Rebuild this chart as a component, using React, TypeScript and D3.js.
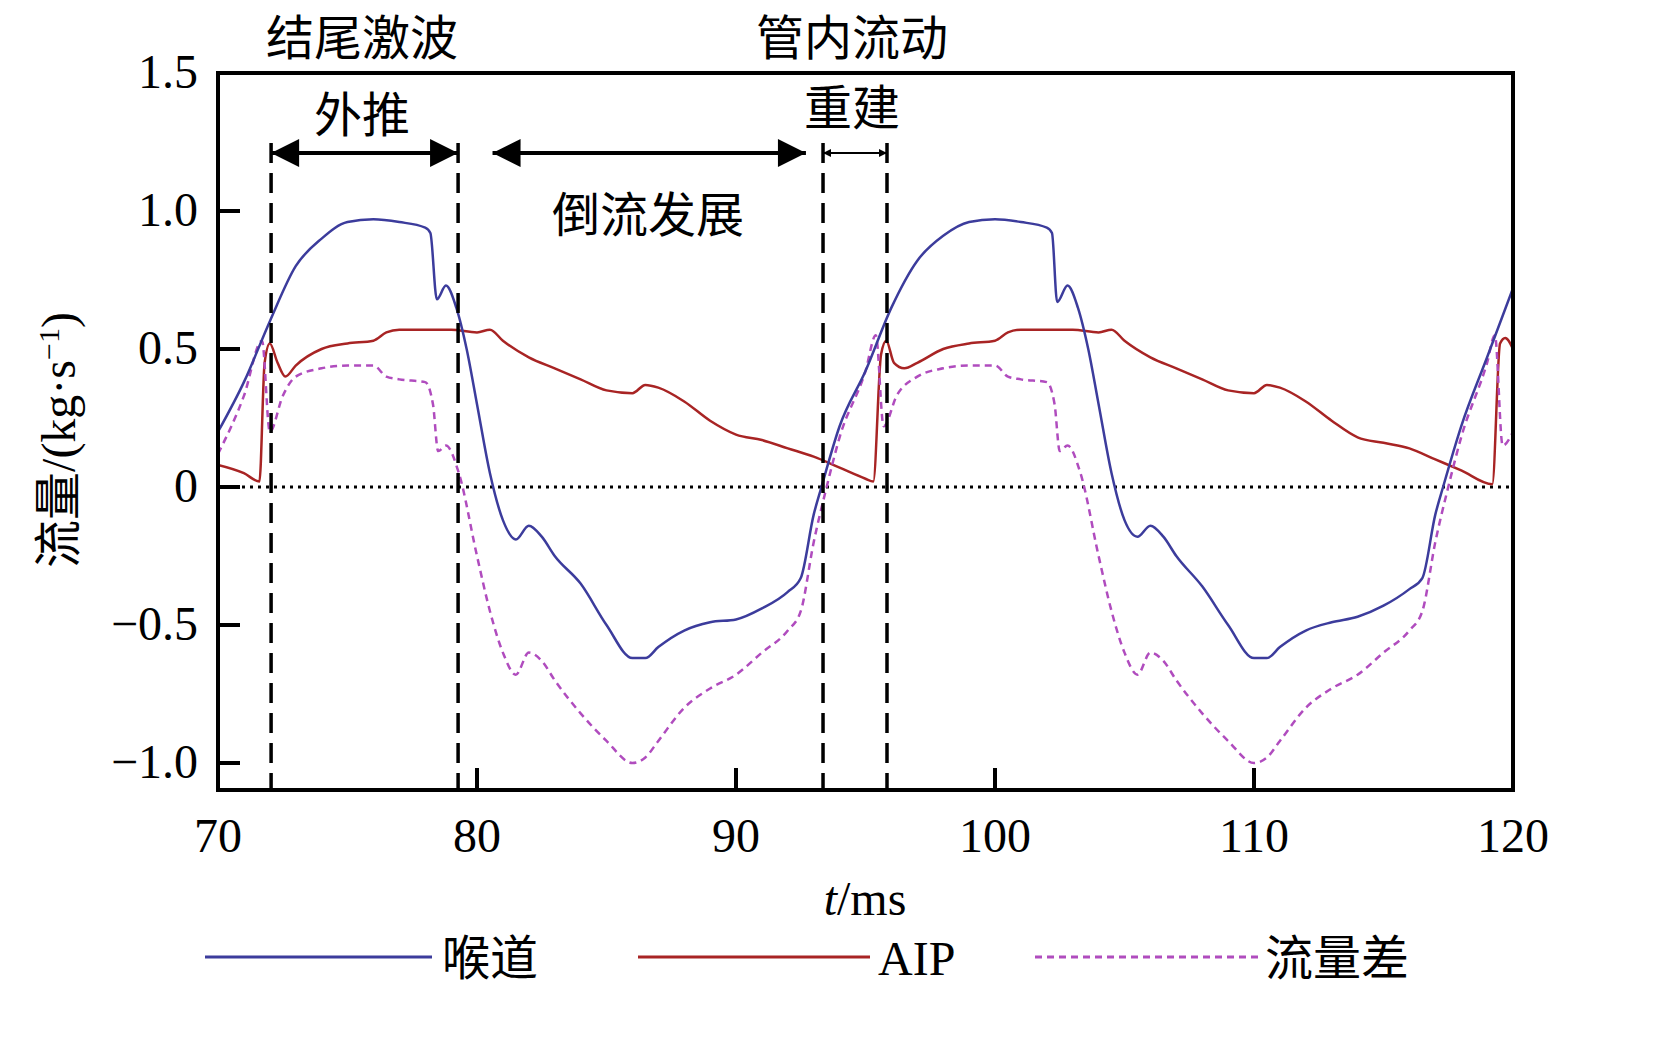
import * as d3 from "d3";

const throatT = [70, 71, 72, 73, 74, 75, 76, 77, 78, 78.2, 78.45, 78.8, 79.2, 79.6, 80, 80.5, 81, 81.5, 82, 82.5, 83, 84, 85, 86, 86.5, 87, 88, 89, 90, 91, 92, 92.5, 93, 93.3, 94, 95, 96, 97, 98, 99, 100, 101, 102, 102.2, 102.4, 102.8, 103.2, 103.6, 104, 104.5, 105, 105.5, 106, 106.5, 107, 108, 109, 110, 110.5, 111, 112, 113, 114, 115, 116, 116.5, 117, 117.3, 118, 119, 120];
const throatV = [0.2, 0.38, 0.6, 0.8, 0.9, 0.96, 0.97, 0.96, 0.94, 0.92, 0.68, 0.73, 0.65, 0.5, 0.3, 0.05, -0.12, -0.19, -0.14, -0.18, -0.25, -0.35, -0.5, -0.62, -0.62, -0.58, -0.52, -0.49, -0.48, -0.44, -0.38, -0.33, -0.1, 0, 0.22, 0.42, 0.65, 0.82, 0.91, 0.96, 0.97, 0.96, 0.94, 0.92, 0.67, 0.73, 0.65, 0.5, 0.3, 0.05, -0.12, -0.18, -0.14, -0.18, -0.25, -0.36, -0.5, -0.62, -0.62, -0.58, -0.52, -0.49, -0.47, -0.43, -0.37, -0.33, -0.1, 0, 0.22, 0.47, 0.72];

const aipT = [70, 71, 71.6, 71.8, 72, 72.3, 72.6, 73, 74, 75, 76, 76.5, 77, 78, 79, 80, 80.5, 81, 82, 83, 84, 85, 86, 86.5, 87, 88, 89, 90, 91, 92, 93, 94, 95, 95.3, 95.6, 95.8, 96.1, 96.5, 97, 98, 99, 100, 100.5, 101, 102, 103, 104, 104.5, 105, 106, 107, 108, 109, 110, 110.5, 111, 112, 113, 114, 115, 116, 117, 118, 119.2, 119.5, 119.7, 120];
const aipV = [0.08, 0.05, 0.02, 0.45, 0.52, 0.45, 0.4, 0.44, 0.5, 0.52, 0.53, 0.56, 0.57, 0.57, 0.57, 0.56, 0.57, 0.53, 0.47, 0.43, 0.39, 0.35, 0.34, 0.37, 0.36, 0.31, 0.24, 0.19, 0.17, 0.14, 0.11, 0.07, 0.03, 0.02, 0.48, 0.53, 0.45, 0.43, 0.45, 0.5, 0.52, 0.53, 0.56, 0.57, 0.57, 0.57, 0.56, 0.57, 0.53, 0.47, 0.43, 0.39, 0.35, 0.34, 0.37, 0.36, 0.31, 0.24, 0.18, 0.16, 0.14, 0.1, 0.06, 0.01, 0.52, 0.54, 0.5];

const diffT = [70, 71, 71.7, 72, 72.5, 73, 74, 75, 76, 76.5, 77, 78, 78.3, 78.5, 78.8, 79.3, 80, 80.5, 81, 81.5, 82, 82.5, 83, 84, 85, 86, 86.5, 87, 88, 89, 90, 91, 92, 92.5, 93, 93.5, 94, 95, 95.4, 95.7, 96.2, 97, 98, 99, 100, 100.5, 101, 102, 102.3, 102.5, 102.8, 103.3, 104, 104.5, 105, 105.5, 106, 106.5, 107, 108, 109, 110, 110.5, 111, 112, 113, 114, 115, 116, 116.5, 117, 117.5, 118, 119, 119.3, 119.6, 120];
const diffV = [0.12, 0.33, 0.53, 0.2, 0.33, 0.4, 0.43, 0.44, 0.44, 0.4, 0.39, 0.38, 0.3, 0.13, 0.15, 0.05, -0.25, -0.45, -0.6, -0.68, -0.6, -0.63, -0.7, -0.82, -0.92, -1.0, -0.98, -0.92, -0.8, -0.73, -0.68, -0.6, -0.52, -0.45, -0.2, 0.0, 0.18, 0.42, 0.55, 0.22, 0.33, 0.4, 0.43, 0.44, 0.44, 0.4, 0.39, 0.38, 0.3, 0.13, 0.15, 0.05, -0.25, -0.45, -0.6, -0.68, -0.6, -0.63, -0.7, -0.82, -0.92, -1.0, -0.98, -0.92, -0.8, -0.73, -0.68, -0.6, -0.52, -0.45, -0.2, 0.0, 0.18, 0.45, 0.55, 0.15, 0.2];

const xTicks = [70, 80, 90, 100, 110, 120];
const yTicks = [1.5, 1.0, 0.5, 0, -0.5, -1.0];
const yTickLabels = ["1.5", "1.0", "0.5", "0", "\u22120.5", "\u22121.0"];
const eventT = [72.05, 79.27, 93.36, 95.83];

const BLUE = "#3c3c9c";
const RED = "#a82424";
const MAG = "#b04cbe";
const FONT = "'Liberation Serif', 'Times New Roman', 'Noto Sans CJK SC', serif";

export default function App() {
  const L = 218, R = 1513, T = 73, B = 790;
  const x = d3.scaleLinear().domain([70, 120]).range([L, R]);
  const y = d3.scaleLinear().domain([-1.0, 1.5]).range([763, 73]);
  const mk = (ts: number[], vs: number[]) =>
    d3.line<number>().x((_, i) => x(ts[i])).y((v) => y(v)).curve(d3.curveMonotoneX)(vs) ?? "";
  const arrowY = 153;
  const arrows: [number, number][] = [
    [eventT[0], eventT[1]],
    [80.6, 92.7],
    [eventT[2], eventT[3]],
  ];
  return (
    <svg width={1663} height={1054} style={{ fontFamily: FONT, display: "block", margin: -8 }}>
      <defs>
        <marker id="ah" viewBox="0 0 10 10" refX="10" refY="5" markerWidth="13" markerHeight="7" orient="auto-start-reverse" markerUnits="strokeWidth">
          <path d="M0,0 L10,5 L0,10 z" fill="#000" />
        </marker>
        <marker id="ahs" viewBox="0 0 10 10" refX="10" refY="5" markerWidth="6" markerHeight="4" orient="auto-start-reverse" markerUnits="strokeWidth">
          <path d="M0,0 L10,5 L0,10 z" fill="#000" />
        </marker>
        <clipPath id="pc"><rect x={L} y={T} width={R - L} height={B - T} /></clipPath>
      </defs>
      <line x1={L} x2={R} y1={y(0)} y2={y(0)} stroke="#000" strokeWidth={3} strokeDasharray="3,5" />
      <g clipPath="url(#pc)" fill="none" strokeWidth={2.5}>
        <path d={mk(aipT, aipV)} stroke={RED} />
        <path d={mk(diffT, diffV)} stroke={MAG} strokeDasharray="7,5" />
        <path d={mk(throatT, throatV)} stroke={BLUE} />
      </g>
      {eventT.map((t) => (
        <line key={t} x1={x(t)} x2={x(t)} y1={143} y2={B} stroke="#000" strokeWidth={3.5} strokeDasharray="20,10" />
      ))}
      {arrows.map(([a, b], i) => (
        <line key={i} x1={x(a)} x2={x(b)} y1={arrowY} y2={arrowY} stroke="#000" strokeWidth={i === 2 ? 2 : 4}
          markerStart={`url(#${i === 2 ? "ahs" : "ah"})`} markerEnd={`url(#${i === 2 ? "ahs" : "ah"})`} />
      ))}
      <rect x={L} y={T} width={R - L} height={B - T} fill="none" stroke="#000" strokeWidth={4} />
      {xTicks.slice(1, -1).map((t) => (
        <line key={t} x1={x(t)} x2={x(t)} y1={B} y2={B - 22} stroke="#000" strokeWidth={4} />
      ))}
      {yTicks.map((v) => (
        <line key={v} x1={L} x2={L + 22} y1={y(v)} y2={y(v)} stroke="#000" strokeWidth={4} />
      ))}
      <g fontSize={48} fill="#000">
        {xTicks.map((t) => (
          <text key={t} x={x(t)} y={852} textAnchor="middle">{t}</text>
        ))}
        {yTicks.map((v, i) => (
          <text key={v} x={198} y={y(v) + 15} textAnchor="end">{yTickLabels[i]}</text>
        ))}
        <text x={865} y={915} textAnchor="middle"><tspan fontStyle="italic">t</tspan>/ms</text>
        <text transform="translate(75,440) rotate(-90)" textAnchor="middle">流量/(kg·s<tspan dy={-16} fontSize={30}>−1</tspan><tspan dy={16}>)</tspan></text>
        <text x={362} y={55} textAnchor="middle">结尾激波</text>
        <text x={362} y={132} textAnchor="middle">外推</text>
        <text x={852} y={55} textAnchor="middle">管内流动</text>
        <text x={852} y={125} textAnchor="middle">重建</text>
        <text x={648} y={232} textAnchor="middle">倒流发展</text>
      </g>
      <g fontSize={48} fill="#000">
        <line x1={205} x2={432} y1={957} y2={957} stroke={BLUE} strokeWidth={3} />
        <text x={442} y={975}>喉道</text>
        <line x1={638} x2={870} y1={957} y2={957} stroke={RED} strokeWidth={3} />
        <text x={878} y={975}>AIP</text>
        <line x1={1035} x2={1260} y1={957} y2={957} stroke={MAG} strokeWidth={3} strokeDasharray="7,5" />
        <text x={1265} y={975}>流量差</text>
      </g>
    </svg>
  );
}
